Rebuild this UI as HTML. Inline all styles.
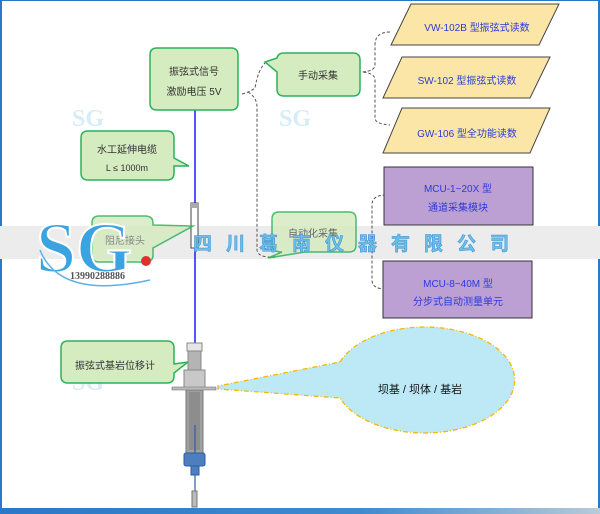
<!DOCTYPE html>
<html><head><meta charset="utf-8"><style>
html,body{margin:0;padding:0;background:#fff}
svg{display:block}
</style></head><body>
<svg width="600" height="514" viewBox="0 0 600 514" xmlns="http://www.w3.org/2000/svg" font-family="Liberation Sans, Noto Sans CJK SC, sans-serif">
<defs>
<linearGradient id="bt" x1="0" x2="1"><stop offset="0" stop-color="#2a78c8"/><stop offset="0.6" stop-color="#3f8ad0"/><stop offset="1" stop-color="#b8cbd8"/></linearGradient>
</defs>
<rect x="0" y="0" width="600" height="514" fill="#fff"/>
<rect x="0" y="0" width="2" height="514" fill="#2a78c8"/>
<rect x="598" y="0" width="2" height="514" fill="#2a78c8"/>
<rect x="0" y="0" width="600" height="1" fill="#2a78c8"/>
<rect x="0" y="508" width="600" height="6" fill="url(#bt)"/>

<!-- faint SG watermarks -->
<g style="font-family:'Liberation Serif',serif;font-weight:bold;font-size:24px" fill="#d6edf9">
<text x="72" y="126">SG</text><text x="279" y="126">SG</text><text x="477" y="152">SG</text>
<text x="72" y="390">SG</text><text x="279" y="390">SG</text><text x="474" y="390">SG</text>
</g>

<!-- watermark band -->
<rect x="0" y="226" width="600" height="33" fill="#ececec"/>

<!-- dashed connectors -->
<g fill="none" stroke="#555" stroke-width="1" stroke-dasharray="3,2">
<path d="M242,94 Q250,92 255,88 Q258,70 265,63"/>
<path d="M248,92 Q258,98 257,110 L257,250 Q258,258 275,257"/>
<path d="M390,32 Q375,32 375,45 L375,65 Q375,71 362,72 Q375,73 375,80 L375,118 Q375,124 390,125"/>
<path d="M386,195 Q372,195 372,205 L372,280 Q372,289 386,289"/>
</g>

<!-- parallelograms -->
<g fill="#fbe6a8" stroke="#444" stroke-width="1">
<polygon points="411,4 559,4 539,45 391,45"/>
<polygon points="402,57 550,57 530,98 383,98"/>
<polygon points="402,108 550,108 530,153 383,153"/>
</g>
<g fill="#2b3adb" font-size="10" text-anchor="middle">
<text x="477" y="31">VW-102B 型振弦式读数</text>
<text x="467" y="84">SW-102 型振弦式读数</text>
<text x="467" y="137">GW-106 型全功能读数</text>
</g>

<!-- purple boxes -->
<rect x="384" y="167" width="149" height="58" fill="#bca0d4" stroke="#333"/>
<rect x="383" y="261" width="149" height="57" fill="#bca0d4" stroke="#333"/>
<g fill="#2b3adb" font-size="10" text-anchor="middle">
<text x="458" y="192">MCU-1~20X 型</text>
<text x="458" y="211">通道采集模块</text>
<text x="458" y="287">MCU-8~40M 型</text>
<text x="458" y="305">分步式自动测量单元</text>
</g>

<!-- cable -->
<line x1="195" y1="110" x2="195" y2="345" stroke="#1a1aff" stroke-width="1.5"/>
<rect x="191" y="203" width="7" height="45" fill="#fff" stroke="#444"/>
<rect x="191" y="203" width="7" height="5" fill="#aaa"/>

<!-- green callouts -->
<g fill="#d5ebc0" stroke="#2bb25a" stroke-width="1.5">
<path d="M157,48 H231 Q238,48 238,55 V103 Q238,110 231,110 H157 Q150,110 150,103 V55 Q150,48 157,48 Z"/>
<path d="M284,53 H353 Q360,53 360,60 V89 Q360,96 353,96 H284 Q277,96 277,89 V72 L265,62 L277,58 Q278,53 284,53 Z"/>
<path d="M88,131 H167 Q174,131 174,138 V158 L189,166 L174,166 V173 Q174,180 167,180 H88 Q81,180 81,173 V138 Q81,131 88,131 Z"/>
<path d="M99,216 H145 Q153,216 153,223 V225 L193,226 L153,248 V255 Q153,262 145,262 H99 Q92,262 92,255 V223 Q92,216 99,216 Z" opacity="0.85"/>
<path d="M279,212 H349 Q356,212 356,219 V245 Q356,252 349,252 H305 L268,258 L282,252 Q272,252 272,245 V219 Q272,212 279,212 Z" opacity="0.85"/>
<path d="M68,341 H167 Q174,341 174,348 V364 L188,362 L174,373 V376 Q174,383 167,383 H68 Q61,383 61,376 V348 Q61,341 68,341 Z"/>
</g>
<g fill="#333" font-size="10" text-anchor="middle">
<text x="194" y="75">振弦式信号</text>
<text x="194" y="95">激励电压 5V</text>
<text x="318" y="79">手动采集</text>
<text x="127" y="153">水工延伸电缆</text>
<text x="127" y="171" font-size="9">L ≤ 1000m</text>
<text x="125" y="244" fill="#888">阻尼接头</text>
<text x="313" y="237" fill="#666">自动化采集</text>
<text x="115" y="369">振弦式基岩位移计</text>
</g>

<!-- SG logo -->
<g>
<text x="36" y="272" style="font-family:'Liberation Serif',serif;font-weight:bold;font-size:72px" fill="#3aa3e0" stroke="#fff" stroke-width="2">SG</text>
<circle cx="146" cy="261" r="5" fill="#d9342b"/>
<path d="M40,250 Q60,300 150,280" fill="none" stroke="#5fb0e8" stroke-width="1.5"/>
<text x="70" y="279" style="font-family:'Liberation Serif',serif;font-weight:bold;font-size:10px" fill="#555">13990288886</text>
</g>
<text x="193" y="250" style="font-family:'Noto Sans CJK SC',sans-serif;font-weight:bold;font-size:19px;letter-spacing:14px" fill="#6dbfe8" stroke="#3a8fd0" stroke-width="0.5">四川葛南仪器有限公司</text>

<!-- ellipse callout -->
<path d="M340,362 A90,53 0 1,1 340,398 L218,389 L218,386 Z" fill="#bde9f7" stroke="#f5b800" stroke-width="1.3" stroke-dasharray="5,2,1,2"/>
<text x="420" y="393" font-size="11" fill="#111" text-anchor="middle">坝基 / 坝体 / 基岩</text>

<!-- instrument -->
<rect x="188" y="351" width="13" height="20" fill="#b4b4b4" stroke="#888"/>
<rect x="187" y="343" width="15" height="8" fill="#e6e6e6" stroke="#888"/>
<rect x="186" y="390" width="17" height="64" fill="#a0a0a0" stroke="#777"/>
<rect x="189" y="392" width="11" height="58" fill="#8d8d8d"/>
<rect x="184" y="370" width="21" height="18" fill="#c8c8c8" stroke="#888"/>
<rect x="172" y="387" width="44" height="3" fill="#bbb" stroke="#777" stroke-width="0.6"/>
<line x1="195" y1="425" x2="195" y2="492" stroke="#2d5fa0" stroke-width="1.2"/>
<rect x="184" y="453" width="21" height="13" rx="2" fill="#4d7fbf" stroke="#2d5fa0"/>
<rect x="191" y="466" width="8" height="9" fill="#4d7fbf" stroke="#2d5fa0"/>
<rect x="192" y="491" width="5" height="16" fill="#bbb" stroke="#777"/>
</svg>
</body></html>
